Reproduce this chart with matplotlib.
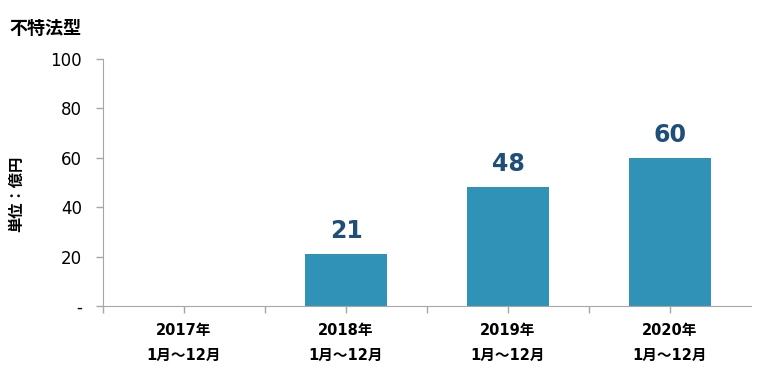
import numpy as np
import matplotlib.pyplot as plt

# data
years = ['2017年', '2018年', '2019年', '2020年']
period = '1月～12月'
values = [np.nan, 21, 48, 60]
yticks = [0, 20, 40, 60, 80, 100]
ytick_labels = ['-', '20', '40', '60', '80', '100']

BAR = '#3192B8'
LABEL = '#1F4E79'
FONTS = ['DejaVu Sans', 'Noto Sans CJK JP']
plt.rcParams['font.family'] = FONTS

fig = plt.figure(figsize=(7.62, 3.74), dpi=100)
ax = fig.add_axes([103 / 762, 1 - 306 / 374, 648 / 762, 247 / 374])

x = np.arange(len(years))
ax.bar(x, np.nan_to_num(values), width=0.51, color=BAR, zorder=2)
for xi, v in zip(x, values):
    if not np.isnan(v):
        ax.text(xi, v + 4.5, f'{v:.0f}', ha='center', va='bottom',
                color=LABEL, fontsize=17, fontweight='bold')

ax.set_xlim(-0.5, len(years) - 0.5)
ax.set_ylim(0, 100)
ax.set_yticks(yticks)
ax.set_yticklabels(ytick_labels, fontsize=12)

# tick marks at category edges and centres, labels drawn as text
ax.set_xticks(x - 0.5)
ax.set_xticks(x, minor=True)
ax.set_xticklabels([])
for xi, yr in zip(x, years):
    ax.text(xi, -0.07, f'{yr}\n{period}', transform=ax.get_xaxis_transform(),
            ha='center', va='top', fontsize=10.5, fontweight='bold',
            linespacing=1.8, family=FONTS)

for s in ['top', 'right']:
    ax.spines[s].set_visible(False)
for s in ['left', 'bottom']:
    ax.spines[s].set_color('#A6A6A6')
ax.tick_params(axis='both', which='both', direction='out', length=5, width=1,
               color='#A6A6A6')
ax.tick_params(axis='y', pad=10)

fig.text(9 / 762, 1 - 28 / 374, '不特法型', fontsize=13, fontweight='bold',
         va='center', ha='left', family=['Noto Sans CJK JP'])
fig.text(16 / 762, 1 - 194 / 374, '単位：億円', fontsize=11, fontweight='bold',
         rotation=90, va='center', ha='center', family=['Noto Sans CJK JP'])

fig.savefig('out.png', dpi=100, facecolor='white')
